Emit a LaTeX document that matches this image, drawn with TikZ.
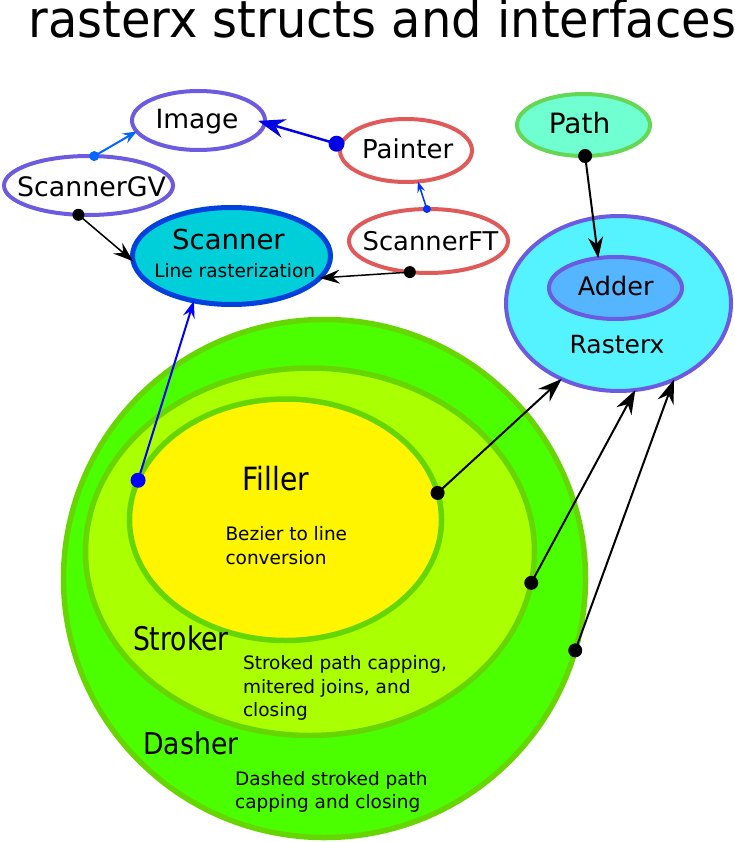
\documentclass[tikz,border=0pt]{standalone}
\usepackage{fontspec}
\setmainfont{DejaVu Sans}
\usetikzlibrary{arrows.meta,shapes.geometric}
\definecolor{purp}{RGB}{108,90,225}
\definecolor{redd}{RGB}{225,90,90}
\definecolor{scanfill}{RGB}{0,206,216}
\definecolor{scanline}{RGB}{0,64,221}
\definecolor{pathfill}{RGB}{112,255,208}
\definecolor{pathline}{RGB}{102,214,85}
\definecolor{rastfill}{RGB}{85,242,255}
\definecolor{addfill}{RGB}{85,182,255}
\definecolor{dashfill}{RGB}{76,255,0}
\definecolor{strokfill}{RGB}{170,255,0}
\definecolor{fillfill}{RGB}{255,245,0}
\definecolor{greenline}{RGB}{102,214,0}
\definecolor{lblue}{RGB}{0,102,255}
\definecolor{dblue}{RGB}{0,0,230}
\definecolor{mblue}{RGB}{0,51,255}
\definecolor{fblue}{RGB}{0,0,255}
\newcommand{\fs}[2]{\fontsize{#1}{#2}\selectfont}
\begin{document}
\begin{tikzpicture}[x=1pt,y=-1pt,
  ell/.style={ellipse, inner sep=0pt, outer sep=0pt, line width=4pt},
  gell/.style={ellipse, inner sep=0pt, outer sep=0pt, line width=5.5pt, draw=greenline},
  lbl/.style={inner sep=0pt, outer sep=0pt, anchor=base},
  txt/.style={inner sep=0pt, outer sep=0pt, anchor=base west, align=left},
  conn/.style={line width=#1, line cap=round},
  tipS/.style n args={3}{-{Stealth[length=#1pt, width=#2pt, inset=#3pt]}},
]
\useasboundingbox (0,0) rectangle (735,842);

% title
\node[txt] (title) at (28.3,37.3) {\fs{51}{60}\scalebox{0.94}[1]{rasterx structs and interfaces}};

% green nested ellipses
\node[gell, fill=dashfill, minimum width=522pt, minimum height=518pt] (dasher) at (324.5,578.5) {};
\node[gell, fill=strokfill, minimum width=449pt, minimum height=367.5pt] (stroker) at (310,551.75) {};
\node[gell, fill=fillfill, minimum width=312pt, minimum height=241.5pt] (filler) at (285.5,519.75) {};

% upper ellipses
\node[ell, draw=purp, fill=white, minimum width=133pt, minimum height=59pt] (img) at (198.5,120.5) {};
\node[ell, draw=purp, fill=white, minimum width=169pt, minimum height=59pt] (sgv) at (88.5,185.5) {};
\node[ell, draw=redd, fill=white, minimum width=132pt, minimum height=63pt] (painter) at (406,150.5) {};
\node[ell, draw=redd, fill=white, minimum width=159pt, minimum height=64pt] (sft) at (428.5,241) {};
\node[ell, draw=scanline, fill=scanfill, line width=5pt, minimum width=198pt, minimum height=97pt] (scanner) at (231.5,256) {};
\node[ell, draw=pathline, fill=pathfill, minimum width=133pt, minimum height=62pt] (path) at (583.5,125) {};
\node[ell, draw=purp, fill=rastfill, minimum width=225pt, minimum height=175pt] (rasterx) at (618.5,303.5) {};
\node[ell, draw=purp, fill=addfill, minimum width=133pt, minimum height=62pt] (adder) at (615.5,288) {};

% labels
\node[lbl] (imgT) at (197,129) {\fs{26.5}{30}Image};
\node[lbl] (sgvT) at (91.5,197) {\fs{26.8}{30}ScannerGV};
\node[lbl] (painterT) at (407.7,159) {\fs{26}{30}Painter};
\node[lbl] (sftT) at (430.5,250) {\fs{25.8}{30}ScannerFT};
\node[lbl] (scannerT) at (228.5,249.5) {\fs{27.5}{30}Scanner};
\node[lbl] (lineT) at (234.7,277.7) {\fs{18.5}{22}Line rasterization};
\node[lbl] (pathT) at (579.5,134) {\fs{28}{30}Path};
\node[lbl] (adderT) at (615.7,295) {\fs{25.5}{30}Adder};
\node[lbl] (rasterxT) at (617,353.3) {\fs{25}{30}Rasterx};
\node[txt] (fillerT) at (242.5,490) {\fs{32}{36}\scalebox{0.88}[1]{Filler}};
\node[txt] (strokerT) at (133,650.5) {\fs{32.5}{36}\scalebox{0.82}[1]{Stroker}};
\node[txt] (dasherT) at (143.4,754) {\fs{30}{36}\scalebox{0.89}[1]{Dasher}};
% base anchor of a multi-line node is the baseline of its last line
\node[txt, font=\fs{18.5}{24}] (bezT) at (225.5,564.7) {Bezier to line\\conversion};
\node[txt, font=\fs{18.5}{23.5}] (strokT) at (243,716.7) {Stroked path capping,\\mitered joins, and\\closing};
\node[txt, font=\fs{18.5}{23.5}] (dashT) at (235.2,808.7) {Dashed stroked path\\capping and closing};

% connectors
\draw[conn=2pt, lblue, tipS={14}{11}{5}] (sgv.79) -- (img.190);
\fill[lblue] (sgv.79) circle (5);
\draw[conn=2.5pt, dblue, tipS={27}{19}{9}, shorten >=-7pt] ([xshift=-5pt]painter.174) -- (img.-2);
\fill[dblue] ([xshift=-5pt]painter.174) circle (8);
\draw[conn=1.5pt, mblue, tipS={11}{8}{4}] (sft.93) -- (painter.291);
\fill[mblue] (sft.93) circle (4);
\draw[conn=1.5pt, black, tipS={20}{14}{7}] (sgv.251) -- (scanner.183);
\fill (sgv.251) circle (6);
\draw[conn=1.5pt, black, tipS={20}{14}{7}] (sft.239) -- (scanner.-14.5);
\fill (sft.239) circle (6);
\draw[conn=2pt, black, tipS={21}{15}{7}] (path.273.5) -- (adder.120);
\fill (path.273.5) circle (7);
\draw[conn=2pt, fblue, tipS={17}{12}{6}] (filler.165.5) -- (scanner.230);
\fill[fblue] (filler.165.5) circle (7.5);
\draw[conn=2pt, black, tipS={24}{17}{8}] (filler.10.3) -- (rasterx.233.6);
\fill (filler.10.3) circle (7);
\draw[conn=2pt, black, tipS={24}{17}{8}] (stroker.-8.7) -- (rasterx.281.1);
\fill (stroker.-8.7) circle (7);
\draw[conn=2pt, black, tipS={24}{17}{8}] (dasher.-16.7) -- (rasterx.306.6);
\fill (dasher.-16.7) circle (7);
\end{tikzpicture}
\end{document}
